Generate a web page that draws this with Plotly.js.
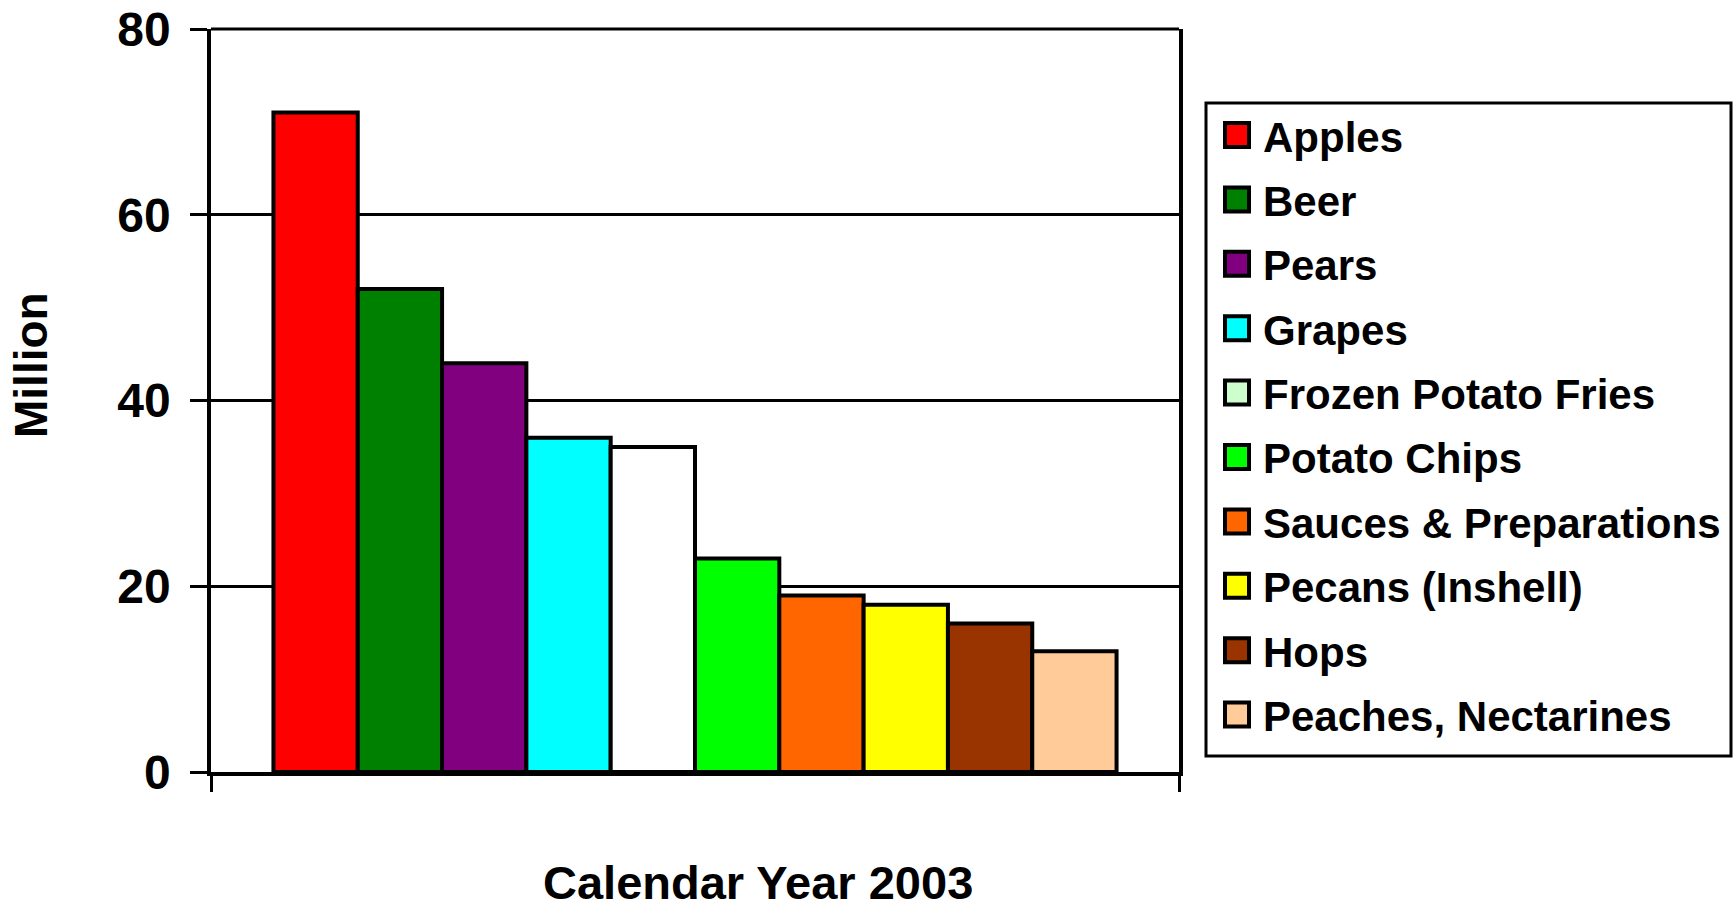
<!DOCTYPE html>
<html>
<head>
<meta charset="utf-8">
<script src="https://cdn.plot.ly/plotly-3.0.1.min.js"></script>
<style>html,body{margin:0;padding:0;background:#fff;}#chart{width:1734px;height:905px;}</style>
</head>
<body>
<div id="chart"></div>
<script>
// ---- data ----
const categories = ["Apples", "Beer", "Pears", "Grapes", "Frozen Potato Fries", "Potato Chips", "Sauces & Preparations", "Pecans (Inshell)", "Hops", "Peaches, Nectarines"];
const values = [71, 52, 44, 36, 35, 23, 19, 18, 16, 13];
const barColors = ["#FF0000", "#008000", "#800080", "#00FFFF", "#FFFFFF", "#00FF00", "#FF6600", "#FFFF00", "#993300", "#FFCC99"];
const legendColors = ["#FF0000", "#008000", "#800080", "#00FFFF", "#CCFFCC", "#00FF00", "#FF6600", "#FFFF00", "#993300", "#FFCC99"];
const xCategory = ["Calendar Year 2003"];
const xTitle = "Calendar Year 2003";
const yTitle = "Million";
const yTickVals = [0, 20, 40, 60, 80];

// ---- layout helpers (pixel -> paper) ----
const W = 1734, H = 905;
const L = 211, R = 1179, T = 29, B = 772;
const px = x => (x - L) / (R - L);
const py = y => (B - y) / (B - T);
const FONT = "Liberation Sans, Arial, Helvetica, sans-serif";

const traces = categories.map((name, i) => ({
  type: "bar",
  name: name,
  x: xCategory,
  y: [values[i]],
  marker: { color: barColors[i], line: { color: "#000", width: 4 } },
  showlegend: false,
  hoverinfo: "name+y"
}));

const shapes = [{
  type: "rect", xref: "paper", yref: "paper",
  x0: px(1206), x1: px(1731), y0: py(756), y1: py(103),
  line: { color: "#000", width: 3 }, fillcolor: "#fff", layer: "below"
}, {
  // top frame line of the plot area (gridline at 80)
  type: "line", xref: "paper", yref: "paper",
  x0: 0, x1: 1, y0: 1, y1: 1,
  line: { color: "#000", width: 3 }
}];
const annotations = [];
const step = 64.4;
categories.forEach((name, i) => {
  const cy = 135 + i * step;
  shapes.push({
    type: "rect", xref: "paper", yref: "paper",
    x0: px(1225), x1: px(1249), y0: py(cy + 12), y1: py(cy - 12),
    line: { color: "#000", width: 4 }, fillcolor: legendColors[i]
  });
  annotations.push({
    xref: "paper", yref: "paper", x: px(1261), y: py(cy + 2),
    xanchor: "left", yanchor: "middle", showarrow: false,
    text: name, font: { family: FONT, size: 42, color: "#000", weight: 700 }
  });
});
annotations.push({
  xref: "paper", yref: "paper", x: px(758), y: py(882),
  xanchor: "center", yanchor: "middle", showarrow: false,
  text: xTitle, font: { family: FONT, size: 47, color: "#000", weight: 700 }
});
annotations.push({
  xref: "paper", yref: "paper", x: px(31), y: py(365),
  xanchor: "center", yanchor: "middle", showarrow: false, textangle: -90,
  text: yTitle, font: { family: FONT, size: 46, color: "#000", weight: 700 }
});

const layout = {
  width: W, height: H,
  margin: { l: L, r: W - R, t: T, b: H - B, pad: 0 },
  paper_bgcolor: "#fff", plot_bgcolor: "#fff",
  barmode: "group", bargap: 0.129, bargroupgap: 0,
  showlegend: false,
  font: { family: FONT, color: "#000" },
  xaxis: {
    type: "category", range: [-0.5, 0.5],
    showticklabels: false, ticks: "outside", tickson: "boundaries",
    ticklen: 16, tickwidth: 3, tickcolor: "#000",
    showline: true, linecolor: "#000", linewidth: 4,
    showgrid: false, zeroline: false, fixedrange: true
  },
  yaxis: {
    range: [0, 80], tickvals: yTickVals,
    ticks: "outside", ticklen: 17, tickwidth: 3, tickcolor: "#000",
    ticklabelstandoff: 10,
    tickfont: { family: FONT, size: 48, color: "#000", weight: 700 },
    showgrid: true, gridcolor: "#000", gridwidth: 2.5,
    showline: true, linecolor: "#000", linewidth: 3.5, mirror: true,
    zeroline: false, fixedrange: true
  },
  shapes: shapes,
  annotations: annotations
};

Plotly.newPlot("chart", traces, layout, { displayModeBar: false, responsive: false });
</script>
</body>
</html>
